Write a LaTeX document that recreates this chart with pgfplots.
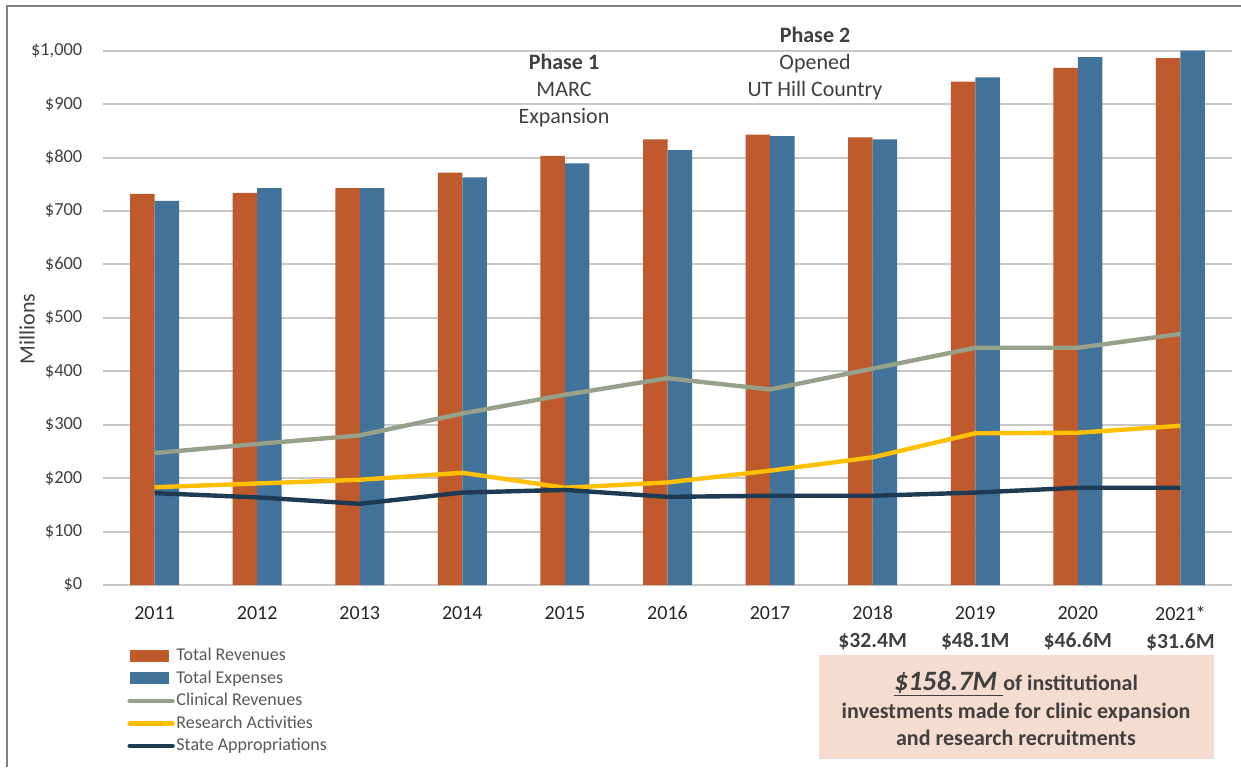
\documentclass[border=0pt]{standalone}
\usepackage{pgfplots}
\pgfplotsset{compat=1.18}
\usepackage{fontspec}
\setmainfont{Carlito}

\definecolor{rev}{RGB}{190,90,43}
\definecolor{exp}{RGB}{65,115,155}
\definecolor{clin}{RGB}{151,160,136}
\definecolor{res}{RGB}{255,192,0}
\definecolor{state}{RGB}{31,59,83}
\definecolor{gridc}{RGB}{200,200,200}
\definecolor{framec}{RGB}{127,127,127}
\definecolor{txt}{RGB}{64,64,64}
\definecolor{legtxt}{RGB}{89,89,89}
\definecolor{boxc}{RGB}{244,220,208}

\begin{document}
\begin{tikzpicture}[x=0.5pt,y=0.5pt]
\useasboundingbox (0,0) rectangle (1241,767);
\fill[white] (0,0) rectangle (1241,767);
\draw[framec, line width=1pt] (7,0) -- (7,761) -- (1241,761);

\begin{axis}[
    at={(103.3pt*0.5,182pt*0.5)}, anchor=south west,
    scale only axis, width=564.2pt, height=267.15pt,
    xmin=-0.5, xmax=10.5, ymin=0, ymax=1000,
    axis line style={draw=none},
    major tick length=0pt,
    ytick={0,100,...,1000},
    ymajorgrids, grid style={gridc, line width=1pt},
    /pgf/number format/assume math mode=true,
    /pgf/number format/1000 sep={,},
    yticklabel={\$\pgfmathprintnumber{\tick}},
    yticklabel style={font=\fontsize{9.2}{11}\selectfont, text=txt, xshift=-7pt},
    xtick={0,...,10},
    xticklabels={2011,2012,2013,2014,2015,2016,2017,
      {2018\\\textbf{\fontsize{10.8}{14}\selectfont\color{txt}\$32.4M}},
      {2019\\\textbf{\fontsize{10.8}{14}\selectfont\color{txt}\$48.1M}},
      {2020\\\textbf{\fontsize{10.8}{14}\selectfont\color{txt}\$46.6M}},
      {2021*\\\textbf{\fontsize{10.8}{14}\selectfont\color{txt}\$31.6M}}},
    xticklabel style={font=\fontsize{10}{14}\selectfont, align=center, text={black!85}, yshift=-7pt},
    ylabel={Millions},
    ylabel style={at={(axis description cs:-0.0676,0.479)}, anchor=center,
      font=\fontsize{11}{13}\selectfont, text=txt},
    legend style={at={(axis description cs:0.0214,-0.114)}, anchor=north west,
      draw=none, fill=none, inner sep=0pt, outer sep=0pt, row sep=1.35pt,
      font=\fontsize{9}{10}\selectfont, text=legtxt,
      nodes={inner sep=0.8pt, text height=6.5pt, text depth=1.8pt}},
    legend cell align=left,
]

\addplot[ybar, bar width=12.25pt, bar shift=-6.125pt, fill=rev, draw=none,
  legend image code/.code={\fill[rev] (0pt,-3pt) rectangle (19.5pt,3pt);}]
  coordinates {(0,732) (1,734) (2,743) (3,772) (4,803) (5,834) (6,843) (7,838) (8,942) (9,968) (10,986)};
\addlegendentry{Total Revenues}

\addplot[ybar, bar width=12.25pt, bar shift=6.125pt, fill=exp, draw=none,
  legend image code/.code={\fill[exp] (0pt,-3pt) rectangle (19.5pt,3pt);}]
  coordinates {(0,719) (1,743) (2,743) (3,763) (4,789) (5,814) (6,840) (7,834) (8,950) (9,988) (10,1000)};
\addlegendentry{Total Expenses}

\addplot[clin, line width=2.2pt, line join=round, mark=none,
  legend image code/.code={\draw[clin, line width=2.2pt, line cap=round] (0pt,0pt) -- (21.5pt,0pt);}]
  coordinates {(0,247) (1,264) (2,280) (3,321) (4,356) (5,387) (6,366) (7,405) (8,444) (9,444) (10,470)};
\addlegendentry{Clinical Revenues}

\addplot[res, line width=2.2pt, line join=round, mark=none,
  legend image code/.code={\draw[res, line width=2.2pt, line cap=round] (0pt,0pt) -- (21.5pt,0pt);}]
  coordinates {(0,183) (1,190) (2,197) (3,210) (4,182) (5,192) (6,214) (7,239) (8,284) (9,285) (10,298)};
\addlegendentry{Research Activities}

\addplot[state, line width=2.2pt, line join=round, mark=none,
  legend image code/.code={\draw[state, line width=2.2pt, line cap=round] (0pt,0pt) -- (21.5pt,0pt);}]
  coordinates {(0,172) (1,164) (2,152) (3,173) (4,178) (5,165) (6,167) (7,167) (8,173) (9,182) (10,182)};
\addlegendentry{State Appropriations}
\end{axis}

% phase annotations
\begin{scope}[every node/.style={text=txt, font=\fontsize{11}{13}\selectfont, anchor=base, inner sep=0pt}]
\node at (564,697.7) {\textbf{Phase 1}};
\node at (564,670.3) {MARC};
\node at (564,643.5) {Expansion};
\node at (815,724) {\textbf{Phase 2}};
\node at (815,697) {Opened};
\node at (815,670) {UT Hill Country};
\end{scope}

% investment box
\fill[boxc] (819,8) rectangle (1214,112);
\begin{scope}[every node/.style={text=txt, anchor=base, inner sep=0pt}]
\node[font=\bfseries\fontsize{11}{13}\selectfont] at (1016,77)
  {\underline{\fontsize{14}{16}\selectfont\itshape \$158.7M\ }of institutional};
\node[font=\bfseries\fontsize{11}{13}\selectfont] at (1016,49) {investments made for clinic expansion};
\node[font=\bfseries\fontsize{11}{13}\selectfont] at (1016,22) {and research recruitments};
\end{scope}
\end{tikzpicture}
\end{document}
